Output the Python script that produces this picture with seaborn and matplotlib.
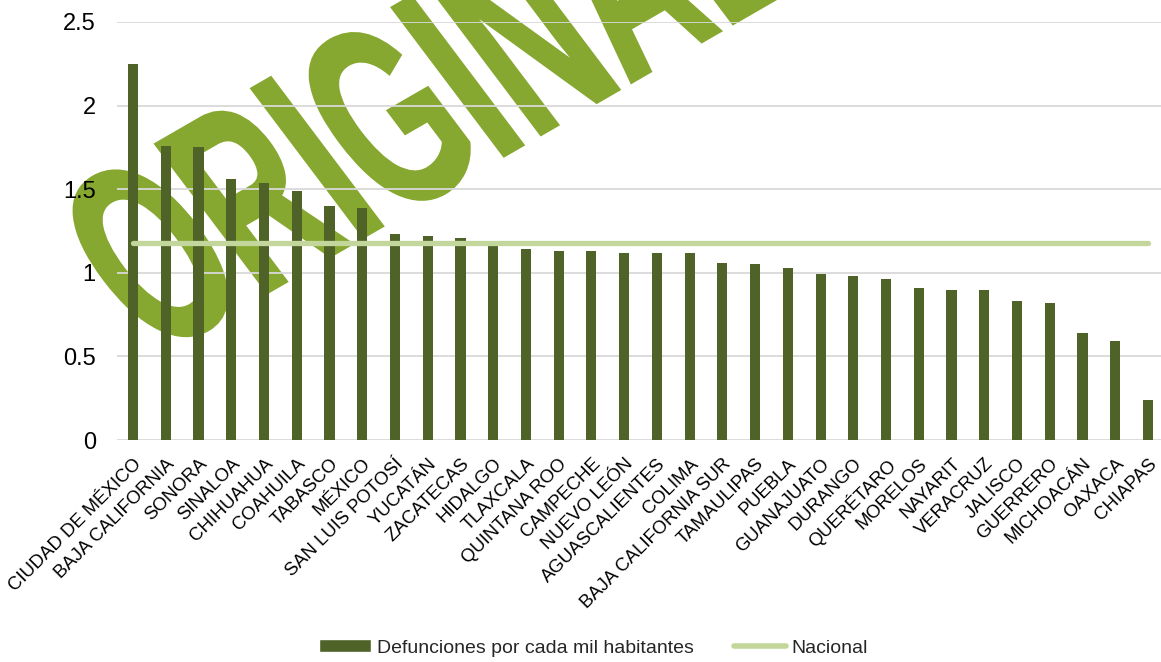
import matplotlib
matplotlib.use('Agg')
from matplotlib import pyplot as plt
from matplotlib import font_manager
from matplotlib.textpath import TextPath
from matplotlib.patches import PathPatch, Patch
from matplotlib.lines import Line2D
from matplotlib.transforms import Affine2D, IdentityTransform
from matplotlib.ticker import FuncFormatter
import numpy as np
import pandas as pd
import seaborn as sb

# datos
estados = ['CIUDAD DE MÉXICO', 'BAJA CALIFORNIA', 'SONORA', 'SINALOA', 'CHIHUAHUA',
           'COAHUILA', 'TABASCO', 'MÉXICO', 'SAN LUIS POTOSÍ', 'YUCATÁN', 'ZACATECAS',
           'HIDALGO', 'TLAXCALA', 'QUINTANA ROO', 'CAMPECHE', 'NUEVO LEÓN',
           'AGUASCALIENTES', 'COLIMA', 'BAJA CALIFORNIA SUR', 'TAMAULIPAS', 'PUEBLA',
           'GUANAJUATO', 'DURANGO', 'QUERÉTARO', 'MORELOS', 'NAYARIT', 'VERACRUZ',
           'JALISCO', 'GUERRERO', 'MICHOACÁN', 'OAXACA', 'CHIAPAS']
defunciones = [2.25, 1.76, 1.75, 1.56, 1.54, 1.49, 1.40, 1.39, 1.23, 1.22, 1.21,
               1.17, 1.14, 1.13, 1.13, 1.12, 1.12, 1.12, 1.06, 1.05, 1.03, 0.99,
               0.98, 0.96, 0.91, 0.90, 0.90, 0.83, 0.82, 0.64, 0.59, 0.24]
nacional = 1.18
yticks = [0, 0.5, 1, 1.5, 2, 2.5]

df = pd.DataFrame({'estado': estados, 'valor': defunciones})

sb.set_theme(style='white')
nombres = {f.name for f in font_manager.fontManager.ttflist}
angosta = 'Liberation Sans Narrow' in nombres
fuente = 'Liberation Sans Narrow' if angosta else 'Liberation Sans'
plt.rcParams['font.family'] = [fuente, 'DejaVu Sans']
k = 1.2 if angosta else 1.0   # la fuente angosta necesita mas tamano

fig = plt.figure(figsize=(11.61, 6.62), dpi=100)
fig.patch.set_facecolor('white')

# marca de agua "ORIGINAL" (debajo de todo)
tp = TextPath((0, 0), 'ORIGINAL', size=100, prop=font_manager.FontProperties(family=fuente, weight='bold'))
bb = tp.get_extents()
tr = (Affine2D().translate(-(bb.x0 + bb.width / 2), -(bb.y0 + bb.height / 2))
      .scale(740 / bb.width, 190 / bb.height)
      .skew_deg(-7, 0)
      .rotate_deg(30)
      .translate(425, 662 - 95))
marca = PathPatch(tr.transform_path(tp), facecolor='#86A830', edgecolor='#86A830', lw=2,
                  transform=IdentityTransform(), zorder=-5)
fig.patches.append(marca)

ax = fig.add_axes([0.1005, 0.3353, 0.9024, 0.6315])
ax.patch.set_facecolor('none')

sb.barplot(data=df, x='estado', y='valor', color='#4F6228', saturation=1, width=0.31,
           linewidth=0, ax=ax, zorder=2)
ax.plot(range(len(estados)), [nacional] * len(estados), color='#C3D69B', lw=3.8,
        solid_capstyle='round', zorder=3)

ax.set_xlim(-0.5, len(estados) - 0.5)
ax.set_ylim(0, 2.5)
ax.set_yticks(yticks)
ax.yaxis.set_major_formatter(FuncFormatter(lambda v, p: '{:g}'.format(v)))
ax.yaxis.grid(True, color='#D9D9D9', lw=1.3)
ax.set_axisbelow(True)
for s in ax.spines.values():
    s.set_visible(False)
ax.set_xlabel('')
ax.set_ylabel('')
ax.tick_params(axis='y', length=0, pad=15, labelsize=17 * k, colors='black')
ax.tick_params(axis='x', length=0, pad=11, labelsize=13.3 * k, colors='black')
for lab in ax.get_xticklabels():
    lab.set_rotation(45)
    lab.set_ha('right')
    lab.set_va('top')
    lab.set_rotation_mode('anchor')

handles = [Patch(facecolor='#4F6228'),
           Line2D([0], [0], color='#C3D69B', lw=4, solid_capstyle='round')]
fig.legend(handles, ['Defunciones por cada mil habitantes', 'Nacional'],
           loc='center left', bbox_to_anchor=(319 / 1161, 1 - 648 / 662), ncol=2,
           frameon=False, fontsize=14 * k, handlelength=2.68, handleheight=0.6,
           handletextpad=0.3, columnspacing=2.06, borderpad=0, borderaxespad=0)

fig.savefig('out.png', dpi=100)
